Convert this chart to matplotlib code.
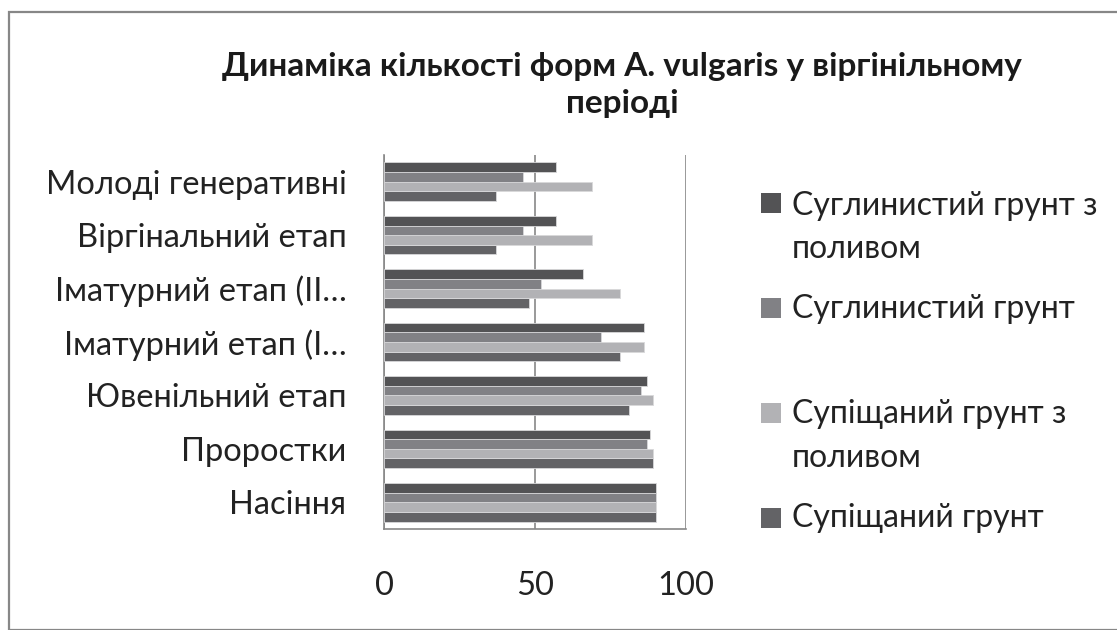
import matplotlib
matplotlib.use("Agg")
import matplotlib.pyplot as plt
from matplotlib.patches import Rectangle
import numpy as np

plt.rcParams['font.family'] = ['Lato', 'DejaVu Sans']

title_lines = ["Динаміка кількості форм A. vulgaris у віргінільному", "періоді"]
categories = ["Насіння", "Проростки", "Ювенільний етап", "Іматурний етап (I…",
              "Іматурний етап (II…", "Віргінальний етап", "Молоді генеративні"]
series_names = ["Супіщаний грунт", "Супіщаний грунт з\nполивом",
                "Суглинистий грунт", "Суглинистий грунт з\nполивом"]
supishch = [90, 89, 81, 78, 48, 37, 37]
supishch_pol = [90, 89, 89, 86, 78, 69, 69]
suglyn = [90, 87, 85, 72, 52, 46, 46]
suglyn_pol = [90, 88, 87, 86, 66, 57, 57]
series_values = [supishch, supishch_pol, suglyn, suglyn_pol]
colors = ['#636366', '#b2b2b5', '#818185', '#535355']
xticks = [0, 50, 100]

W, H = 1117, 630
fig = plt.figure(figsize=(W / 100, H / 100), dpi=100)
fig.patch.set_facecolor('white')
fig.patches.append(Rectangle((9 / W, 0), 1.2, (H - 12) / H, transform=fig.transFigure,
                             fill=False, edgecolor='#878787', linewidth=1.6))

ax = fig.add_axes([384 / W, (H - 529) / H, 302 / W, 374 / H])
y = np.arange(len(categories))
h = 0.18
for k, (vals, c) in enumerate(zip(series_values, colors)):
    ax.barh(y + (k - 1.5) * h, vals, height=h, color=c, edgecolor='#d8d8da',
            linewidth=0.6, zorder=3)

ax.set_xlim(0, 100)
ax.set_ylim(-0.5, len(categories) - 0.5)
ax.set_xticks(xticks)
ax.set_yticks(y)
ax.set_yticklabels(categories)
ax.tick_params(axis='y', length=0, pad=27, labelsize=23.5, labelcolor='#222222')
ax.tick_params(axis='x', length=0, pad=30, labelsize=23.5, labelcolor='#222222')
ax.grid(axis='x', color='#888888', linewidth=1.2, zorder=1)
for s in ['top', 'right']:
    ax.spines[s].set_visible(False)
for s in ['left', 'bottom']:
    ax.spines[s].set_color('#888888')
    ax.spines[s].set_linewidth(1.2)

# title lines (baselines in pixels)
for line, base in zip(title_lines, [76, 113]):
    fig.text(622 / W, 1 - base / H, line, ha='center', va='baseline', fontsize=24,
             fontweight='bold', color='#1a1a1a')

# legend (top to bottom as in the reference)
legend_base = [[215, 258], [318], [423, 467], [527]]
legend_box = [203, 308, 413, 518]
order = [3, 2, 1, 0]
for bases, yy, idx in zip(legend_base, legend_box, order):
    fig.patches.append(Rectangle((761 / W, 1 - (yy + 10) / H), 20 / W, 20 / H,
                                 transform=fig.transFigure, facecolor=colors[idx],
                                 edgecolor='none'))
    for line, base in zip(series_names[idx].split('\n'), bases):
        fig.text(792 / W, 1 - base / H, line, ha='left', va='baseline',
                 fontsize=23, color='#222222')

fig.savefig('out.png', dpi=100)
